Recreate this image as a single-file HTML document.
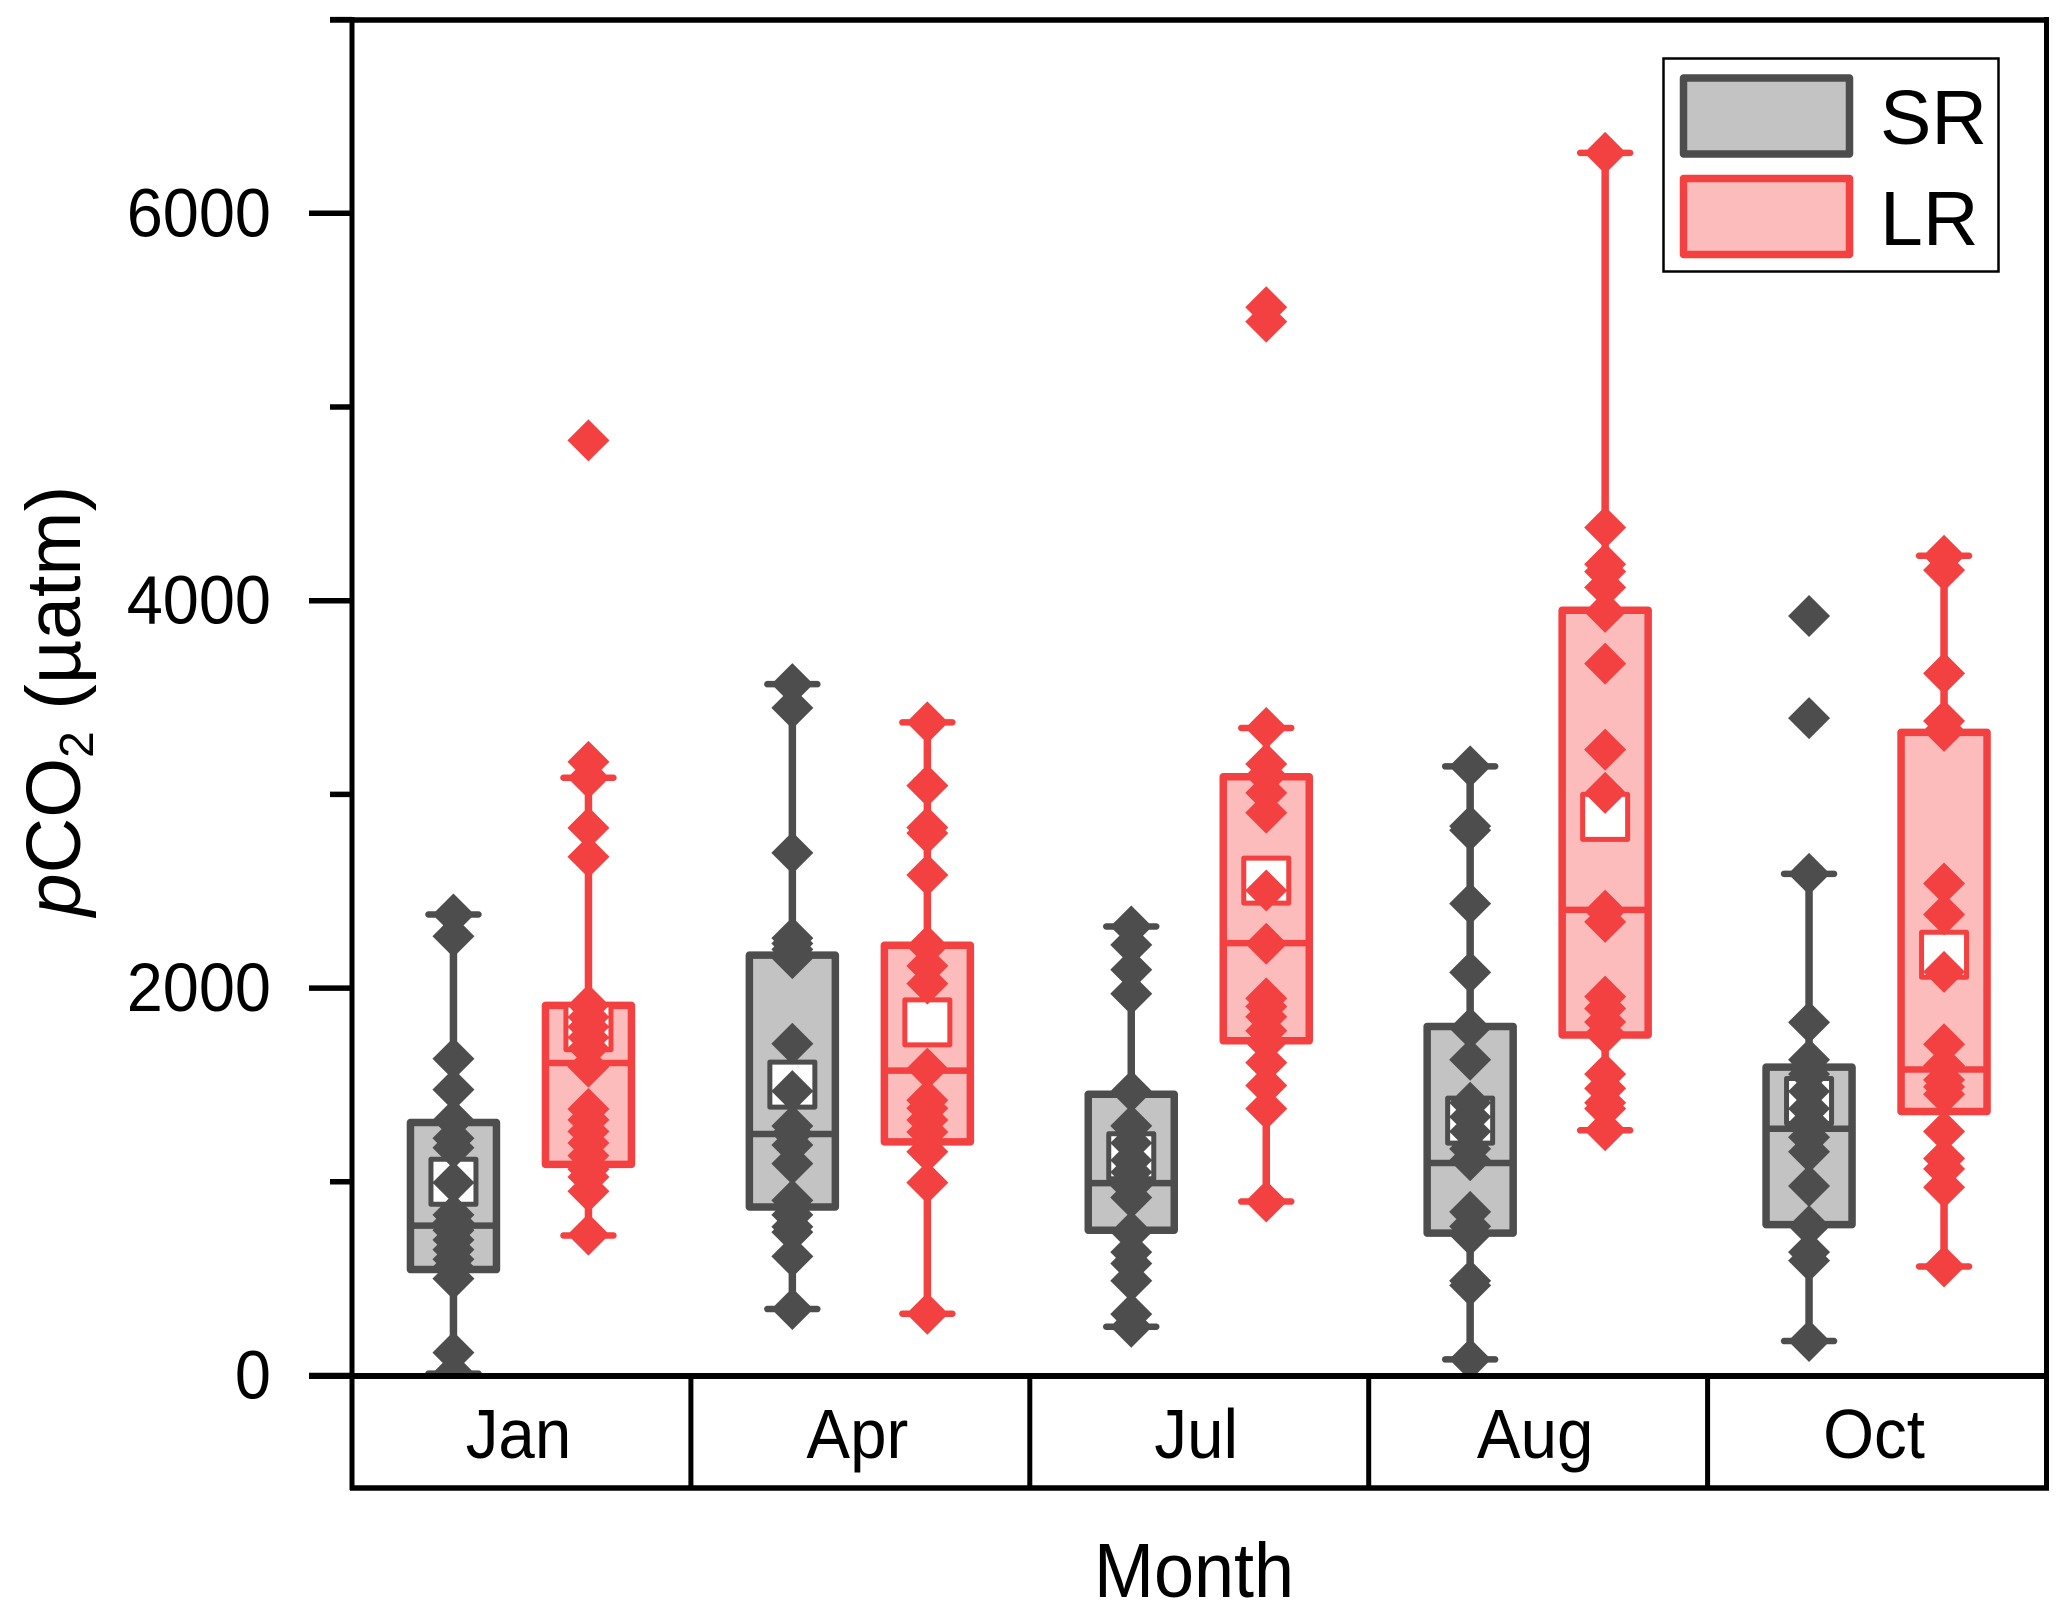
<!DOCTYPE html>
<html lang="en">
<head>
<meta charset="utf-8">
<title>pCO2 by month</title>
<style>
html,body{margin:0;padding:0;background:#fff;}
svg{display:block;}
text{font-family:"Liberation Sans",Arial,sans-serif;fill:#000;}
</style>
</head>
<body>
<svg id="chart" xmlns="http://www.w3.org/2000/svg" width="2067" height="1615" viewBox="0 0 2067 1615">
  <defs>
    <clipPath id="plot-clip"><rect x="352" y="20" width="1695" height="1356"/></clipPath>
  </defs>
  <rect x="0" y="0" width="2067" height="1615" fill="#fff"/>
  <g id="marks" clip-path="url(#plot-clip)"></g>
  <g id="axes" fill="none" stroke="#000">
    <line x1="352" y1="17" x2="352" y2="1490" stroke-width="5"/>
    <line x1="2046.5" y1="17" x2="2046.5" y2="1490" stroke-width="5"/>
    <line x1="330" y1="20" x2="2049" y2="20" stroke-width="5.5"/>
    <line x1="309" y1="1376" x2="2049" y2="1376" stroke-width="6"/>
    <line x1="350" y1="1488" x2="2049" y2="1488" stroke-width="5.5"/>
  </g>
  <g id="ticks"></g>
  <text transform="translate(80,701) rotate(-90)" text-anchor="middle" font-size="77"><tspan font-style="italic">p</tspan>CO<tspan font-size="48" dy="13">2</tspan><tspan dy="-13"> (µatm)</tspan></text>
  <text transform="translate(1194,1597) scale(0.935,1)" text-anchor="middle" font-size="77">Month</text>
  <g>
    <rect x="1663.5" y="58.5" width="335" height="213" fill="#fff" stroke="#000" stroke-width="2.5"/>
    <rect x="1683.5" y="78" width="166" height="76" fill="#c3c3c3" stroke="#4d4d4d" stroke-width="7.5" stroke-linejoin="round"/>
    <text x="1880" y="144" font-size="77">SR</text>
    <rect x="1683.5" y="178.5" width="166" height="76" fill="#fcbcbc" stroke="#f34040" stroke-width="7.5" stroke-linejoin="round"/>
    <text x="1880" y="245" font-size="77">LR</text>
  </g>
</svg>
<script>
const categories = ['Jan', 'Apr', 'Jul', 'Aug', 'Oct'];
const majorTicks = [0, 2000, 4000, 6000];
const minorTicks = [1000, 3000, 5000, 7000];

const srQ1 = [547, 870, 750, 735, 779];
const srMedian = [774, 1247, 993, 1097, 1274];
const srQ3 = [1306, 2170, 1452, 1802, 1592];
const srMean = [1000, 1502, 1132, 1316, 1417];
const srLow = [10, 343, 252, 83, 178];
const srHigh = [2380, 3569, 2318, 3145, 2590];
const srPointsJan = [2380, 2268, 1635, 1476, 1319, 1225, 1176, 996, 829, 790, 750, 700, 650, 600, 560, 500, 118, 12];
const srPointsApr = [3569, 3447, 2698, 2258, 2230, 2200, 2155, 1713, 1468, 1288, 1250, 1190, 1094, 904, 829, 768, 740, 615, 343];
const srPointsJul = [2318, 2223, 2095, 1971, 1467, 1289, 1200, 1111, 1050, 978, 919, 741, 637, 578, 489, 317, 252];
const srPointsAug = [3145, 2836, 2815, 2436, 2081, 1793, 1630, 1408, 1335, 1260, 1170, 1111, 845, 770, 726, 489, 465, 83];
const srPointsOct = [3921, 3394, 2590, 1823, 1630, 1556, 1467, 1378, 1304, 1230, 1155, 978, 771, 637, 593, 178];

const lrQ1 = [1090, 1206, 1728, 1758, 1363];
const lrMedian = [1613, 1574, 2232, 2404, 1580];
const lrQ3 = [1911, 2221, 3091, 3951, 3320];
const lrMean = [1798, 1823, 2555, 2884, 2172];
const lrLow = [723, 319, 898, 1266, 563];
const lrHigh = [3086, 3372, 3343, 6312, 4232];
const lrPointsJan = [4828, 3168, 3086, 2827, 2678, 1911, 1850, 1800, 1745, 1690, 1594, 1376, 1320, 1260, 1200, 1135, 1065, 1025, 951, 727];
const lrPointsApr = [3372, 3045, 2829, 2800, 2584, 2217, 2115, 2023, 1584, 1421, 1380, 1319, 1257, 1155, 996, 319];
const lrPointsJul = [5515, 5441, 3343, 3157, 3097, 3008, 2905, 2504, 2229, 1947, 1905, 1852, 1780, 1719, 1615, 1497, 1378, 898];
const lrPointsAug = [6312, 4378, 4188, 4150, 4069, 3942, 3675, 3231, 3008, 2400, 2342, 1956, 1895, 1825, 1764, 1556, 1482, 1408, 1378, 1266];
const lrPointsOct = [4232, 4158, 3625, 3379, 3328, 2540, 2380, 2084, 1710, 1600, 1526, 1490, 1452, 1260, 1120, 1067, 972, 563];

const srPoints = [srPointsJan, srPointsApr, srPointsJul, srPointsAug, srPointsOct];
const lrPoints = [lrPointsJan, lrPointsApr, lrPointsJul, lrPointsAug, lrPointsOct];

const NS = 'http://www.w3.org/2000/svg';
const plotLeft = 352;
const plotRight = 2046.5;
const zeroY = 1375.5;
const unitPx = 0.1937;
const bandBottom = 1488;

function yScale(v) { return zeroY - v * unitPx; }
function bandWidth() { return (plotRight - plotLeft) / categories.length; }
function bandCenter(i) { return plotLeft + bandWidth() * (i + 0.5); }

function make(parent, tag, attrs) {
  const el = document.createElementNS(NS, tag);
  for (const k in attrs) el.setAttribute(k, attrs[k]);
  parent.appendChild(el);
  return el;
}

const tickLayer = document.getElementById('ticks');
const markLayer = document.getElementById('marks');

majorTicks.forEach(function (v) {
  const t = make(tickLayer, 'line', { x1: 309, x2: plotLeft, y1: yScale(v), y2: yScale(v), stroke: '#000', 'stroke-width': 5.5 });
  
  
  const label = make(tickLayer, 'text', { transform: 'translate(271,' + (yScale(v) + 23) + ') scale(0.94,1)', 'text-anchor': 'end', 'font-size': 69 });
  label.textContent = String(v);
  
  
});

minorTicks.forEach(function (v) {
  const t = make(tickLayer, 'line', { x1: 330, x2: plotLeft, y1: yScale(v), y2: yScale(v), stroke: '#000', 'stroke-width': 5.5 });
  
  
});

categories.forEach(function (c, i) {
  if (i > 0) {
    const sx = plotLeft + bandWidth() * i;
    const sep = make(tickLayer, 'line', { x1: sx, x2: sx, y1: zeroY, y2: bandBottom, stroke: '#000', 'stroke-width': 5 });
    
    
  }
  const label = make(tickLayer, 'text', { transform: 'translate(' + (bandCenter(i) - 3) + ',1458) scale(0.935,1)', 'text-anchor': 'middle', 'font-size': 70 });
  label.textContent = c;
  
  
});

function drawSeries(seriesName, offset, stroke, fill, q1, med, q3, mean, low, high, points) {
  const halfBox = 43;
  const halfCap = 25;
  const halfMean = 22.5;
  const d = 21;
  categories.forEach(function (c, i) {
    const cx = bandCenter(i) + offset;
    const key = seriesName + '-' + c.toLowerCase();

    const whisker = make(markLayer, 'line', { x1: cx, x2: cx, y1: yScale(high[i]), y2: yScale(low[i]), stroke: stroke, 'stroke-width': 7.5 });
    
    

    [high[i], low[i]].forEach(function (v) {
      const cap = make(markLayer, 'line', { x1: cx - halfCap, x2: cx + halfCap, y1: yScale(v), y2: yScale(v), stroke: stroke, 'stroke-width': 6.5, 'stroke-linecap': 'round' });
      
      
    });

    const box = make(markLayer, 'rect', { x: cx - halfBox, y: yScale(q3[i]), width: halfBox * 2, height: yScale(q1[i]) - yScale(q3[i]), fill: fill, stroke: stroke, 'stroke-width': 7.5, 'stroke-linejoin': 'round' });
    
    

    const median = make(markLayer, 'line', { x1: cx - halfBox, x2: cx + halfBox, y1: yScale(med[i]), y2: yScale(med[i]), stroke: stroke, 'stroke-width': 6.5 });
    
    

    const meanBox = make(markLayer, 'rect', { x: cx - halfMean, y: yScale(mean[i]) - halfMean, width: halfMean * 2, height: halfMean * 2, fill: '#fff', stroke: stroke, 'stroke-width': 5, 'stroke-linejoin': 'round' });
    
    

    points[i].forEach(function (v) {
      const py = yScale(v);
      const pt = make(markLayer, 'polygon', { points: cx + ',' + (py - d) + ' ' + (cx + d) + ',' + py + ' ' + cx + ',' + (py + d) + ' ' + (cx - d) + ',' + py, fill: stroke });
      
      
    });
  });
}

drawSeries('sr', -68, '#4d4d4d', '#c3c3c3', srQ1, srMedian, srQ3, srMean, srLow, srHigh, srPoints);
drawSeries('lr', 67, '#f34040', '#fcbcbc', lrQ1, lrMedian, lrQ3, lrMean, lrLow, lrHigh, lrPoints);
</script>
</body>
</html>
